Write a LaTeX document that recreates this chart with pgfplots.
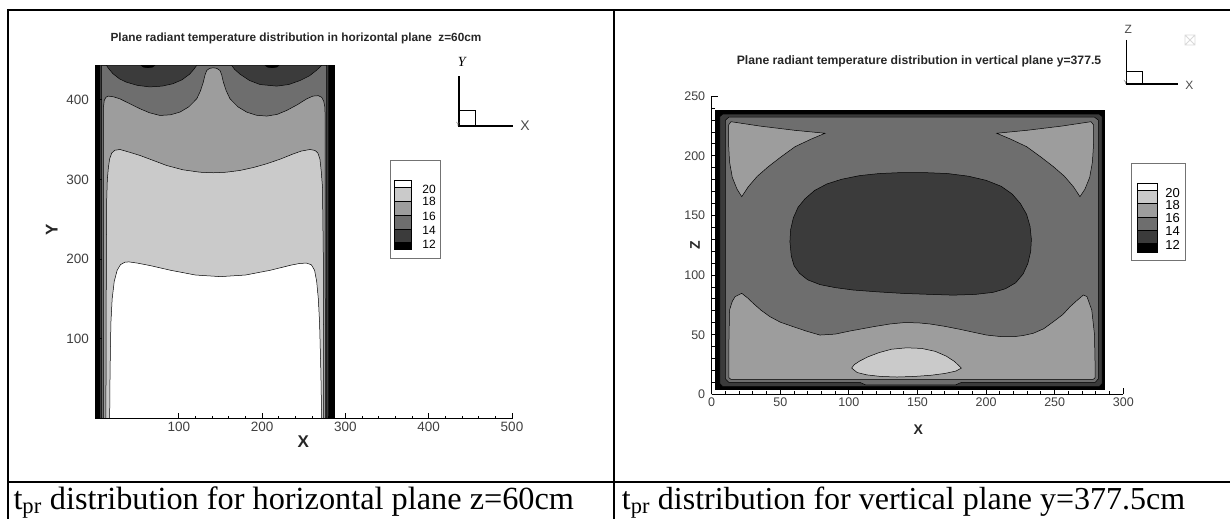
\documentclass[border=0pt]{standalone}
\usepackage{pgfplots}
\pgfplotsset{compat=1.18}
\usepackage{fontspec}
\setmainfont{Liberation Serif}
\setsansfont{Liberation Sans}
\definecolor{cA}{HTML}{3B3B3B}
\definecolor{cB}{HTML}{6E6E6E}
\definecolor{cC}{HTML}{9D9D9D}
\definecolor{cD}{HTML}{CACACA}
\newcommand{\fs}[1]{\fontsize{#1}{#1}\selectfont}
\pgfplotsset{
  cont/.style={draw=black, line width=0.5pt},
  myaxis/.style={
    scale only axis, axis x line=bottom, axis y line=left,
    axis line style={-, line width=1.4pt},
    tick align=inside, major tick length=6pt, minor tick length=3pt,
    tick style={black, line width=1pt},
    minor x tick num=4, minor y tick num=4,
    /pgf/number format/assume math mode=true,
    ticklabel style={text=black!75},
    axis on top, clip=false,
  }
}
\begin{document}
\begin{tikzpicture}
\useasboundingbox (0,0) rectangle (1230pt,-519pt);
% ---------- table rules ----------
\draw[line width=2pt] (7.3pt,-10pt) -- (1230pt,-10pt);
\draw[line width=2pt] (8.3pt,-9pt) -- (8.3pt,-519pt);
\draw[line width=2pt] (614pt,-10pt) -- (614pt,-519pt);
\draw[line width=2pt] (7.3pt,-481.7pt) -- (1230pt,-481.7pt);
% ---------- captions ----------
\node[anchor=base west, inner sep=0] at (13.3pt,-509.7pt) {\fs{32.3}t\textsubscript{pr} distribution for horizontal plane z=60cm};
\node[anchor=base west, inner sep=0] at (621.7pt,-509.7pt) {\fs{32}t\textsubscript{pr} distribution for vertical plane y=377.5cm};
% ---------- titles ----------
\node[font=\sffamily\bfseries\fs{11.8}, text=black!85, inner sep=0] at (296pt,-38.3pt) {Plane radiant temperature distribution in horizontal plane\ \ z=60cm};
\node[font=\sffamily\bfseries\fs{12.2}, text=black!85, inner sep=0] at (919pt,-61.7pt) {Plane radiant temperature distribution in vertical plane y=377.5};
% ---------- axis labels ----------
\node[rotate=90, font=\sffamily\bfseries\fs{17}, text=black!85, inner sep=0] at (51.7pt,-230pt) {Y};
\node[font=\sffamily\bfseries\fs{17}, text=black!85, inner sep=0] at (303.3pt,-441.7pt) {X};
\node[rotate=90, font=\sffamily\bfseries\fs{14}, text=black!85, inner sep=0] at (695pt,-245pt) {Z};
\node[font=\sffamily\bfseries\fs{14}, text=black!85, inner sep=0] at (918.3pt,-430pt) {X};
% ---------- orientation icons ----------
\draw[line width=1.3pt] (459pt,-76pt) -- (459pt,-126pt) -- (513.3pt,-126pt);
\draw[line width=0.8pt] (459pt,-110pt) -- (475.7pt,-110pt) -- (475.7pt,-126pt);
\node[font=\itshape\fs{14}, inner sep=0] at (461.7pt,-61.7pt) {Y};
\node[font=\sffamily\fs{14}, text=black!70, inner sep=0] at (525pt,-126pt) {X};
\node[font=\sffamily\fs{6}, text=black!60, inner sep=0] at (458pt,-124pt) {Y};
\draw[line width=1.3pt] (1126.7pt,-40pt) -- (1126.7pt,-84pt) -- (1178.3pt,-84pt);
\draw[line width=0.8pt] (1126.7pt,-71pt) -- (1142.3pt,-71pt) -- (1142.3pt,-84pt);
\node[font=\sffamily\fs{12}, text=black!70, inner sep=0] at (1128.3pt,-29.3pt) {Z};
\node[font=\sffamily\fs{12}, text=black!70, inner sep=0] at (1189.3pt,-85pt) {X};
\node[font=\sffamily\fs{6}, text=black!60, inner sep=0] at (1125.7pt,-82pt) {Y};
\draw[gray!30, line width=0.8pt] (1185pt,-35pt) rectangle (1195pt,-45pt) (1185pt,-35pt) -- (1195pt,-45pt) (1185pt,-45pt) -- (1195pt,-35pt);
% ---------- legend left ----------
\draw[black!55, line width=1pt] (390.7pt,-160pt) rectangle (440.7pt,-258pt);
\draw[fill=white, line width=0.5pt] (394pt,-180pt) rectangle (411pt,-187.3pt);
\draw[fill=cD, line width=0.5pt] (394pt,-187.3pt) rectangle (411pt,-201pt);
\draw[fill=cC, line width=0.5pt] (394pt,-201pt) rectangle (411pt,-215pt);
\draw[fill=cB, line width=0.5pt] (394pt,-215pt) rectangle (411pt,-229pt);
\draw[fill=cA, line width=0.5pt] (394pt,-229pt) rectangle (411pt,-242.3pt);
\draw[fill=black, line width=0.5pt] (394pt,-242.3pt) rectangle (411pt,-249.3pt);
\begin{scope}[every node/.style={font=\sffamily\fs{12}, inner sep=0}]
\node at (429pt,-189.3pt) {20};
\node at (429pt,-201.7pt) {18};
\node at (429pt,-216.7pt) {16};
\node at (429pt,-230pt) {14};
\node at (429pt,-244.3pt) {12};
\end{scope}
% ---------- legend right ----------
\draw[black!55, line width=1pt] (1131.7pt,-163.3pt) rectangle (1185pt,-260pt);
\draw[fill=white, line width=0.5pt] (1137.3pt,-183.3pt) rectangle (1157.3pt,-190.7pt);
\draw[fill=cD, line width=0.5pt] (1137.3pt,-190.7pt) rectangle (1157.3pt,-203.3pt);
\draw[fill=cC, line width=0.5pt] (1137.3pt,-203.3pt) rectangle (1157.3pt,-217.3pt);
\draw[fill=cB, line width=0.5pt] (1137.3pt,-217.3pt) rectangle (1157.3pt,-230.7pt);
\draw[fill=cA, line width=0.5pt] (1137.3pt,-230.7pt) rectangle (1157.3pt,-243.3pt);
\draw[fill=black, line width=0.5pt] (1137.3pt,-243.3pt) rectangle (1157.3pt,-252.3pt);
\begin{scope}[every node/.style={font=\sffamily\fs{13}, inner sep=0}]
\node at (1172.5pt,-192.7pt) {20};
\node at (1172.5pt,-205pt) {18};
\node at (1172.5pt,-218.3pt) {16};
\node at (1172.5pt,-230.7pt) {14};
\node at (1172.5pt,-245pt) {12};
\end{scope}
% ================= LEFT AXIS =================
\begin{axis}[myaxis,
  at={(95.5pt,-418.5pt)}, anchor=south west,
  width=416.5pt, height=353.1pt,
  xmin=0, xmax=500, ymin=0, ymax=443,
  xtick={100,200,300,400,500}, ytick={100,200,300,400},
  ticklabel style={font=\sffamily\fs{13.5}},
  yticklabel style={xshift=-3pt},
]
\addplot[fill=black, draw=none] coordinates {(0,0) (0,443) (287.5,443) (287.5,0)} -- cycle;
\addplot[fill=cA, draw=none] coordinates {(5.5,0) (5.5,443) (54,443) (57,440.5) (63,439.5) (69,440.5) (72,443) (203,443) (206,440.5) (212,439.5) (218,440.5) (221,443) (279.5,443) (279.5,0)} -- cycle;
\addplot[fill=cB, cont] coordinates {(7.5,0) (7.5,443) (13.4,443) (15,440) (21,432.5) (29,426) (37,422) (50,418) (65,416) (80,417) (93,420) (104,425) (113,432) (118,438) (121.5,443) (163.5,443) (167,438) (173.5,432) (185,424) (197.5,419) (217.5,417) (232,419) (245.5,424) (257,430) (265.5,437) (271.5,443) (277.5,443) (277.5,0)} -- cycle;
\addplot[fill=cC, cont] coordinates {(9.5,0) (9.5,390) (10.5,399) (12.5,403) (15.4,404.5) (22,403.5) (29.4,401) (41,395) (53.4,388.6) (65,383.5) (77.4,380.2) (90,381) (101.4,384.4) (112,391) (121.5,401) (126,411) (129.4,422) (131.5,431) (133.5,436.6) (137,439.3) (141.4,440) (145.5,439.3) (149.5,436.6) (151.5,431) (153.5,422) (157,411) (161.5,401) (171,391) (181.5,384.4) (193,380.5) (205.5,379.4) (218,381.5) (229.5,386.5) (242,393.5) (253.5,401) (261,404.5) (267.5,405) (271.5,403) (274,398) (275.5,390) (276,0)} -- cycle;
\addplot[fill=cD, cont] coordinates {(12.5,0) (13,200) (13.5,276) (14.2,300) (15.5,315) (17,325.8) (19.5,333) (23,336.5) (29.4,337.5) (41,334) (53.4,330) (70,323.5) (85.5,317.4) (105,312) (125.4,309) (141.4,308.3) (157,309) (173.5,311.2) (190,315) (205.5,319.6) (222,325.5) (237.5,332) (247,335.5) (257.5,337.5) (263.5,336.3) (267,333) (269.5,325) (271,310) (272.5,290) (273.5,200) (274,0)} -- cycle;
\addplot[fill=white, cont] coordinates {(17,0) (17.5,60) (18.5,120) (20,150) (22.5,172) (26,186) (30,193) (35,196) (40,196.5) (50,195) (65,192) (90,186) (120,180) (150,178) (180,180) (210,186) (235,192.5) (245,194.5) (253,195) (259,193) (263,186) (265.5,172) (267.5,150) (269,120) (270.5,60) (271.5,0)} -- cycle;
\end{axis}
% ================= RIGHT AXIS =================
\begin{axis}[myaxis,
  at={(711.7pt,-394.3pt)}, anchor=south west,
  width=411.6pt, height=298pt,
  xmin=0, xmax=300, ymin=0, ymax=250,
  xtick={0,50,...,300}, ytick={0,50,...,250},
  ticklabel style={font=\sffamily\fs{12.5}},
  yticklabel style={xshift=-3pt},
]
\addplot[fill=black, draw=none] coordinates {(2.5,3.5) (2.5,238.5) (286.7,238.5) (286.7,3.5)} -- cycle;
\addplot[fill=cA, cont] coordinates {(6,9) (6,233) (8,235) (282.5,235) (284.5,233) (284.5,9) (282.5,6.5) (8,6.5)} -- cycle;
\addplot[fill=cB, cont] coordinates {(10,13) (10,230) (12.5,232.5) (279,232.5) (281.8,230) (281.8,13) (279.5,10) (182,10) (178,8) (112,8) (108,10) (12.5,10)} -- cycle;
\addplot[fill=cA, cont] coordinates {(57,128) (57.5,138) (59.5,148) (63,157) (68,164) (75,171) (84,176.5) (95,180.5) (108,183.5) (122,185.2) (138,186) (155,186) (172,185.2) (187,183) (200,179.5) (211,174.5) (219,168) (225,160) (229.5,151) (232,141) (233,130) (232.5,120) (230.5,110) (227,101) (221.5,93.5) (214,88.5) (205,85.5) (192,83.8) (176,83.2) (160,83.8) (140,84.6) (120,86) (103,87.5) (90,89.5) (79,92) (70,96) (64,101.5) (60,108) (58,116)} -- cycle;
\addplot[fill=cC, cont] coordinates {(82.6,219) (60.3,221.5) (35.3,225) (14,228.7) (12.3,226) (12.3,210) (13,195) (15,182) (18.5,172) (21.9,165.8) (26.7,174.2) (33.3,183) (41.3,191) (50.3,199) (60.7,207.7) (72.3,214)} -- cycle;
\addplot[fill=cC, cont] coordinates {(207.7,219) (230,221.5) (255,225) (276.5,228.7) (278.3,226) (278.3,210) (277.5,195) (275.5,182) (272,172) (268.4,165.8) (263.6,174.2) (257,183) (249,191) (240,199) (229.6,207.7) (218,214)} -- cycle;
\addplot[fill=cC, cont] coordinates {(14,12.5) (12.5,14) (12.5,40) (13,70.7) (15,78) (17,81.9) (21.9,84.7) (26,81) (30.3,76.3) (36,70.5) (42.5,65.1) (50,60.5) (59.5,56.7) (69,53) (78.9,49.7) (90,50.5) (100.8,53.1) (117.8,56.7) (130,59) (139.7,60.1) (150,60) (159.1,59) (170,57) (181,54.5) (191,52) (200.4,49.7) (210,48.5) (219.8,48.3) (227,49.3) (234.4,51.2) (242,55) (249,60.9) (256,67) (261.2,73.5) (266,78.5) (270.9,83.3) (273.5,82) (277,70.7) (279,50) (279.5,20) (279.5,14) (278,12.5)} -- cycle;
\addplot[fill=cD, cont] coordinates {(102,22) (104,25) (108,28) (114,31.5) (122,35) (131,37.8) (142,39) (153,38.5) (163,36) (171,32) (177,27.5) (182,22) (178,19.5) (170,17.5) (160,16) (148,15) (135,14.5) (123,15) (113,16.3) (106,18.3)} -- cycle;
\end{axis}
\end{tikzpicture}
\end{document}
